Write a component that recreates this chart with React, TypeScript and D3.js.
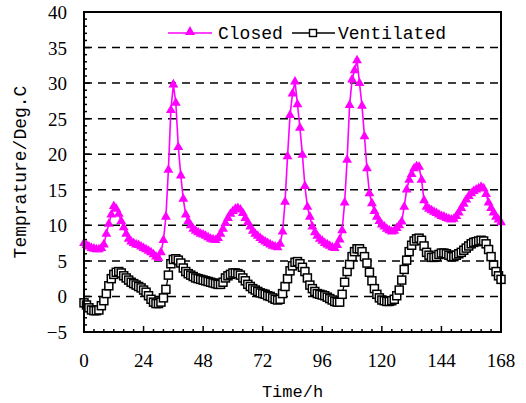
import React, { useEffect, useRef } from 'react';
import * as d3 from 'd3';

// hourly readings, 0..168 h
const closedTemp = [
  7.5, 7.2, 7.0, 6.8, 6.7, 6.6, 6.6, 6.8, 7.3, 8.8,
  10.2, 11.5, 12.7, 12.3, 11.6, 10.6, 9.7, 8.8, 8.1, 7.7,
  7.5, 7.3, 7.2, 7.0, 6.8, 6.6, 6.4, 6.2, 5.9, 5.6,
  5.4, 6.2, 7.9, 11.2, 17.8, 26.2, 29.8, 27.2, 21.0, 17.0,
  13.7, 11.5, 10.6, 10.0, 9.5, 9.2, 9.0, 8.8, 8.7, 8.5,
  8.3, 8.1, 8.0, 7.9, 8.2, 8.8, 9.5, 10.3, 11.0, 11.6,
  12.0, 12.3, 12.4, 12.2, 11.7, 11.0, 10.4, 9.8, 9.2, 8.8,
  8.5, 8.2, 7.9, 7.7, 7.5, 7.3, 7.1, 7.0, 6.9, 7.4,
  9.1, 13.3, 19.7, 25.5, 28.5, 30.2, 27.0, 23.7, 19.9, 15.5,
  12.6, 11.2, 9.8, 9.0, 8.5, 8.1, 7.8, 7.5, 7.3, 7.1,
  6.9, 6.8, 7.2, 8.0, 9.3, 13.2, 19.2, 26.9, 30.5, 31.8,
  33.2, 30.0, 26.8, 22.5, 18.0, 14.5, 13.1, 12.0, 11.2, 10.6,
  10.1, 9.8, 9.5, 9.3, 9.1, 9.2, 9.6, 10.0, 10.5, 12.6,
  15.0, 16.4, 17.2, 18.0, 18.3, 18.2, 16.4, 13.5, 12.6, 12.3,
  12.1, 11.9, 11.7, 11.5, 11.3, 11.2, 11.0, 10.9, 10.8, 10.9,
  11.3, 11.8, 12.4, 13.0, 13.6, 14.1, 14.5, 14.8, 15.0, 15.2,
  15.4, 15.2, 14.4, 13.2, 12.4, 11.8, 11.2, 10.8, 10.4
];

const ventilatedTemp = [
  -0.9, -1.2, -1.6, -1.9, -2.0, -2.0, -1.9, -1.3, -0.6, 0.4,
  1.5, 2.5, 3.1, 3.4, 3.5, 3.3, 2.9, 2.6, 2.3, 2.0,
  1.8, 1.6, 1.4, 1.2, 0.9, 0.6, 0.1, -0.4, -0.8, -1.0,
  -1.0, -0.8, -0.2, 1.0, 3.0, 4.6, 5.2, 5.3, 5.1, 4.7,
  4.0, 3.5, 3.2, 3.0, 2.8, 2.6, 2.5, 2.4, 2.3, 2.2,
  2.1, 2.0, 1.9, 1.8, 1.7, 1.7, 2.0, 2.6, 2.9, 3.1,
  3.3, 3.3, 3.2, 3.0, 2.6, 2.2, 1.7, 1.4, 1.1, 0.9,
  0.7, 0.5, 0.4, 0.3, 0.1, 0.0, -0.2, -0.4, -0.5, -0.4,
  0.4, 1.4, 2.5, 3.6, 4.3, 4.8, 4.9, 4.6, 4.1, 3.5,
  2.6, 1.6, 1.1, 0.7, 0.4, 0.3, 0.2, 0.1, -0.1, -0.3,
  -0.5, -0.7, -0.8, -0.8, 0.3, 2.0, 3.5, 4.5, 5.6, 6.3,
  6.7, 6.7, 6.3, 5.6, 4.7, 3.4, 2.2, 1.1, 0.3, -0.2,
  -0.5, -0.6, -0.7, -0.7, -0.6, -0.4, 0.1, 0.9, 2.3, 3.8,
  5.1, 6.3, 7.2, 7.8, 8.1, 8.2, 7.9, 7.1, 6.2, 5.8,
  5.5, 5.5, 5.6, 5.9, 6.1, 6.1, 6.0, 5.8, 5.6, 5.6,
  5.8, 6.0, 6.2, 6.5, 6.8, 7.1, 7.4, 7.6, 7.7, 7.8,
  7.9, 7.8, 7.4, 6.6, 5.6, 4.4, 3.5, 2.9, 2.4
];

const xTicks = [0, 24, 48, 72, 96, 120, 144, 168];
const yTicks = [-5, 0, 5, 10, 15, 20, 25, 30, 35, 40];
const gridLevels = [0, 5, 10, 15, 20, 25, 30, 35];

const MAGENTA = '#ff00ff';
const monoFont = 'Liberation Mono, Courier New, monospace';
const tickFont = 'Liberation Serif, Times New Roman, DejaVu Serif, serif';

export default function App() {
  const ref = useRef<SVGSVGElement | null>(null);

  useEffect(() => {
    if (!ref.current) return;
    const root = d3.select(ref.current);
    root.selectAll('*').remove();

    const width = 526;
    const height = 403;
    const margin = { top: 12, right: 25, bottom: 71, left: 84 };
    const innerWidth = width - margin.left - margin.right;
    const innerHeight = height - margin.top - margin.bottom;

    root.attr('width', width).attr('height', height);
    const svg = root.append('g').attr('transform', `translate(${margin.left},${margin.top})`);

    const x = d3.scaleLinear().domain([0, 168]).range([0, innerWidth]);
    const y = d3.scaleLinear().domain([-5, 40]).range([innerHeight, 0]);

    // dashed grid
    svg.selectAll('line.grid')
      .data(gridLevels)
      .join('line')
      .attr('class', 'grid')
      .attr('x1', 0)
      .attr('x2', innerWidth)
      .attr('y1', d => y(d))
      .attr('y2', d => y(d))
      .attr('stroke', '#000')
      .attr('stroke-width', 1.5)
      .attr('stroke-dasharray', '8,6');

    // minor + major ticks pointing inward
    const xMinor = d3.range(0, 169, 4);
    svg.selectAll('line.xt')
      .data(xMinor)
      .join('line')
      .attr('class', 'xt')
      .attr('x1', d => x(d))
      .attr('x2', d => x(d))
      .attr('y1', innerHeight)
      .attr('y2', d => innerHeight - (d % 24 === 0 ? 6 : 3))
      .attr('stroke', '#000')
      .attr('stroke-width', 1.5);

    const yMinor = d3.range(-5, 41, 1);
    svg.selectAll('line.yt')
      .data(yMinor)
      .join('line')
      .attr('class', 'yt')
      .attr('x1', 0)
      .attr('x2', d => (d % 5 === 0 ? 6 : 3))
      .attr('y1', d => y(d))
      .attr('y2', d => y(d))
      .attr('stroke', '#000')
      .attr('stroke-width', 1.5);

    // tick labels
    svg.selectAll('text.xl')
      .data(xTicks)
      .join('text')
      .attr('class', 'xl')
      .attr('x', d => x(d))
      .attr('y', innerHeight + 35)
      .attr('text-anchor', 'middle')
      .attr('font-family', tickFont)
      .attr('font-size', 19)
      .text(d => d);

    svg.selectAll('text.yl')
      .data(yTicks)
      .join('text')
      .attr('class', 'yl')
      .attr('x', -17)
      .attr('y', d => y(d) + 7)
      .attr('text-anchor', 'end')
      .attr('font-family', tickFont)
      .attr('font-size', 19)
      .text(d => (d < 0 ? '\u2212' + Math.abs(d) : d));

    // series
    const line = d3.line<number>()
      .x((_, i) => x(i))
      .y(d => y(d));

    svg.append('path')
      .datum(closedTemp)
      .attr('d', line)
      .attr('fill', 'none')
      .attr('stroke', MAGENTA)
      .attr('stroke-width', 1.6);

    const tri = d3.symbol().type(d3.symbolTriangle).size(42);
    svg.selectAll('path.tri')
      .data(closedTemp)
      .join('path')
      .attr('class', 'tri')
      .attr('d', tri)
      .attr('transform', (d, i) => `translate(${x(i)},${y(d)})`)
      .attr('fill', MAGENTA);

    svg.append('path')
      .datum(ventilatedTemp)
      .attr('d', line)
      .attr('fill', 'none')
      .attr('stroke', '#000')
      .attr('stroke-width', 1.3);

    svg.selectAll('rect.sq')
      .data(ventilatedTemp)
      .join('rect')
      .attr('class', 'sq')
      .attr('x', (_, i) => x(i) - 4)
      .attr('y', d => y(d) - 4)
      .attr('width', 8)
      .attr('height', 8)
      .attr('fill', '#fff')
      .attr('stroke', '#000')
      .attr('stroke-width', 1.5);

    // frame
    svg.append('rect')
      .attr('x', 0)
      .attr('y', 0)
      .attr('width', innerWidth)
      .attr('height', innerHeight)
      .attr('fill', 'none')
      .attr('stroke', '#000')
      .attr('stroke-width', 2);

    // legend
    const lg = root.append('g');
    lg.append('line').attr('x1', 168).attr('x2', 212).attr('y1', 33).attr('y2', 33)
      .attr('stroke', MAGENTA).attr('stroke-width', 1.5);
    lg.append('path').attr('d', d3.symbol().type(d3.symbolTriangle).size(45))
      .attr('transform', 'translate(190,32)').attr('fill', MAGENTA);
    lg.append('text').attr('x', 218).attr('y', 39)
      .attr('font-family', monoFont).attr('font-size', 18).attr('fill', '#000')
      .text('Closed');
    lg.append('line').attr('x1', 292).attr('x2', 335).attr('y1', 33).attr('y2', 33)
      .attr('stroke', '#000').attr('stroke-width', 1.3);
    lg.append('rect').attr('x', 309.5).attr('y', 29.5).attr('width', 7).attr('height', 7)
      .attr('fill', '#fff').attr('stroke', '#000').attr('stroke-width', 1.4);
    lg.append('text').attr('x', 338).attr('y', 39)
      .attr('font-family', monoFont).attr('font-size', 18).attr('fill', '#000')
      .text('Ventilated');

    // axis titles
    root.append('text')
      .attr('x', margin.left + innerWidth / 2)
      .attr('y', 397)
      .attr('text-anchor', 'middle')
      .attr('font-family', monoFont)
      .attr('font-size', 17)
      .text('Time/h');

    root.append('text')
      .attr('transform', `translate(26,${margin.top + innerHeight / 2}) rotate(-90)`)
      .attr('text-anchor', 'middle')
      .attr('font-family', monoFont)
      .attr('font-size', 18)
      .text('Temprature/Deg.C');
  }, []);

  return (
    <div style={{ position: 'absolute', left: 0, top: 0, width: 526, height: 403, background: '#fff' }}>
      <svg ref={ref} style={{ display: 'block' }} />
    </div>
  );
}
